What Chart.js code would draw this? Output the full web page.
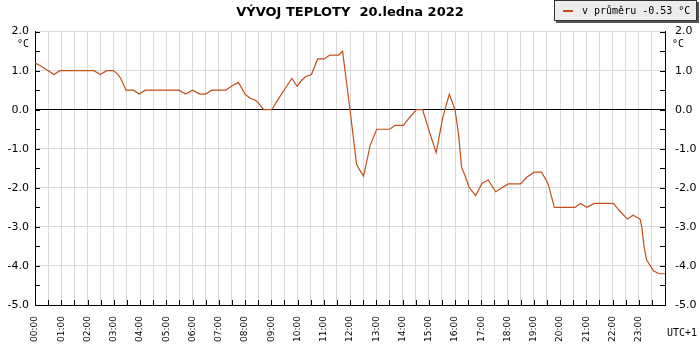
<!DOCTYPE html>
<html>
<head>
<meta charset="utf-8">
<script src="https://cdn.jsdelivr.net/npm/chart.js@4.4.1/dist/chart.umd.min.js"></script>
<style>
  html, body { margin: 0; padding: 0; background: #fff; }
  #wrap { width: 700px; height: 350px; }
</style>
</head>
<body>
<div id="wrap"><canvas id="tempChart" width="700" height="350"></canvas></div>
<script>
// minutes after midnight
const times = [0, 11, 23, 33, 43, 57, 135, 149, 164, 179,
  190, 196, 208, 225, 238, 252, 329, 344, 360, 377,
  390, 404, 436, 449, 465, 480, 491, 506, 523, 541,
  556, 571, 587, 599, 610, 619, 632, 646, 661, 674,
  694, 703, 720, 735, 741, 751, 766, 781, 811, 823,
  842, 853, 872, 886, 903, 917, 932, 947, 960, 968,
  975, 983, 992, 1007, 1022, 1036, 1053, 1067, 1082, 1110,
  1124, 1141, 1158, 1173, 1187, 1234, 1246, 1262, 1278, 1322,
  1337, 1354, 1367, 1383, 1387, 1392, 1398, 1414, 1427, 1440];

const temps = [1.2, 1.13, 1.05, 0.98, 0.9, 1.0, 1.0, 0.9, 1.0, 1.0,
  0.9, 0.8, 0.5, 0.5, 0.4, 0.5, 0.5, 0.4, 0.5, 0.4,
  0.4, 0.5, 0.5, 0.6, 0.7, 0.4, 0.3, 0.23, 0.0, 0.0,
  0.27, 0.53, 0.8, 0.6, 0.76, 0.85, 0.9, 1.3, 1.3, 1.4,
  1.4, 1.5, 0.0, -1.4, -1.52, -1.7, -0.92, -0.5, -0.5, -0.4,
  -0.4, -0.24, 0.0, 0.0, -0.62, -1.1, -0.2, 0.4, 0.0, -0.62,
  -1.47, -1.69, -1.98, -2.2, -1.88, -1.8, -2.1, -2.0, -1.9, -1.9,
  -1.73, -1.6, -1.6, -1.9, -2.5, -2.5, -2.4, -2.5, -2.4, -2.4,
  -2.6, -2.8, -2.7, -2.8, -3.0, -3.5, -3.85, -4.13, -4.2, -4.2];

const hourLabels = ["00:00", "01:00", "02:00", "03:00", "04:00", "05:00",
  "06:00", "07:00", "08:00", "09:00", "10:00", "11:00",
  "12:00", "13:00", "14:00", "15:00", "16:00", "17:00",
  "18:00", "19:00", "20:00", "21:00", "22:00", "23:00"];

const titleText = "VÝVOJ TEPLOTY  20.ledna 2022";
const legendText = "v průměru -0.53 °C";
const unitText = "°C";
const zoneText = "UTC+1";
const lineColor = "#c24f17";

const points = times.map((t, i) => ({ x: t, y: temps[i] }));

// inward tick marks, unit labels, legend box
const extras = {
  id: "extras",
  afterDraw(chart) {
    const ctx = chart.ctx;
    const area = chart.chartArea;
    const xs = chart.scales.x;
    const ys = chart.scales.y;
    ctx.save();
    ctx.strokeStyle = "#000";
    ctx.lineWidth = 1;
    ctx.beginPath();
    ys.ticks.forEach(t => {
      const py = Math.round(ys.getPixelForValue(t.value)) + 0.5;
      ctx.moveTo(area.left, py);
      ctx.lineTo(area.left + 5, py);
      ctx.moveTo(area.right - 5, py);
      ctx.lineTo(area.right, py);
    });
    xs.ticks.forEach(t => {
      const px = Math.round(xs.getPixelForValue(t.value)) + 0.5;
      ctx.moveTo(px, area.bottom);
      ctx.lineTo(px, area.bottom - 5);
    });
    ctx.stroke();

    ctx.fillStyle = "#000";
    ctx.font = "10px 'DejaVu Sans Mono'";
    ctx.textBaseline = "middle";
    ctx.textAlign = "right";
    ctx.fillText(unitText, 29, 44);
    ctx.textAlign = "left";
    ctx.fillText(unitText, 672, 44);
    ctx.textAlign = "right";
    ctx.fillText(zoneText, 697, 333);

    // legend box
    const label = chart.data.datasets[0].label;
    ctx.fillStyle = "#555";
    ctx.fillRect(556, 2, 143, 21);
    ctx.fillStyle = "#ececec";
    ctx.fillRect(554, 0, 143, 21);
    ctx.strokeStyle = "#333";
    ctx.strokeRect(554.5, 0.5, 142, 20);
    ctx.strokeStyle = chart.data.datasets[0].borderColor;
    ctx.lineWidth = 2;
    ctx.beginPath();
    ctx.moveTo(563, 11);
    ctx.lineTo(573, 11);
    ctx.stroke();
    ctx.fillStyle = "#000";
    ctx.textAlign = "left";
    ctx.fillText(label, 582, 11);
    ctx.restore();
  }
};

const gridGray = "#d9d9d9";

new Chart(document.getElementById("tempChart"), {
  type: "line",
  data: {
    datasets: [{
      label: legendText,
      data: points,
      borderColor: lineColor,
      backgroundColor: "transparent",
      borderWidth: 1.2,
      pointRadius: 0,
      tension: 0,
      yAxisID: "y"
    }]
  },
  options: {
    responsive: false,
    animation: false,
    layout: { padding: 0 },
    plugins: {
      legend: { display: false },
      tooltip: { enabled: false },
      title: {
        display: true,
        text: titleText,
        color: "#000",
        font: { family: "DejaVu Sans", size: 13, weight: "bold" },
        padding: { top: 5, bottom: 11 }
      }
    },
    scales: {
      x: {
        type: "linear",
        min: 0,
        max: 1440,
        afterFit(s) { s.height = 45; },
        border: { color: "#000", width: 1 },
        grid: { color: gridGray, drawTicks: false },
        ticks: {
          stepSize: 30,
          autoSkip: false,
          maxRotation: 90,
          minRotation: 90,
          padding: 11,
          color: "#000",
          font: { family: "DejaVu Sans", size: 9 },
          callback(v) {
            if (v % 60 !== 0) return "";
            return hourLabels[v / 60] || "";
          }
        }
      },
      y: {
        position: "left",
        min: -5,
        max: 2,
        afterFit(s) { s.width = 35; },
        border: { color: "#000", width: 1 },
        grid: {
          drawTicks: false,
          color(c) {
            const v = c.tick.value;
            if (v === 0) return "#000";
            return Number.isInteger(v) ? gridGray : "rgba(0,0,0,0)";
          }
        },
        ticks: {
          stepSize: 0.5,
          padding: 6,
          color: "#000",
          font: { family: "DejaVu Sans", size: 11 },
          callback(v) { return Number.isInteger(v) ? v.toFixed(1) : ""; }
        }
      },
      y2: {
        position: "right",
        min: -5,
        max: 2,
        afterFit(s) { s.width = 35; },
        border: { color: "#000", width: 1 },
        grid: { drawOnChartArea: false, drawTicks: false },
        ticks: {
          stepSize: 0.5,
          padding: 10,
          color: "#000",
          font: { family: "DejaVu Sans", size: 11 },
          callback(v) { return Number.isInteger(v) ? v.toFixed(1) : ""; }
        }
      }
    }
  },
  plugins: [extras]
});
</script>
</body>
</html>
